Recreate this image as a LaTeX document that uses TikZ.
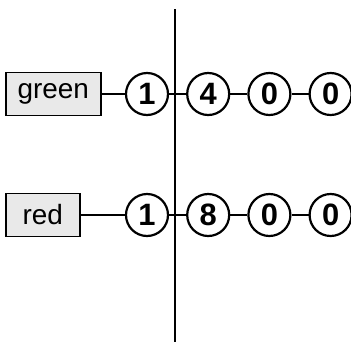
\documentclass[tikz,border=0pt]{standalone}
\usepackage{fontspec}
\setmainfont{Liberation Sans}
\usetikzlibrary{positioning}

\begin{document}
\begin{tikzpicture}[
    x=1bp, y=-1bp,
    node distance=17bp,
    colbox/.style={rectangle, draw=black, line width=1.5bp, fill=gray!17, minimum height=43bp, inner sep=0pt, font=\fontsize{28}{28}\selectfont},
    digit/.style={circle, draw=black, line width=2.2bp, fill=white, minimum size=42bp, inner sep=0pt, font=\fontsize{31}{31}\selectfont\bfseries},
    link/.style={line width=1.8bp}
]
  \useasboundingbox (0,0) rectangle (351,342);

  % divider
  \coordinate (top) at (175,9);
  \coordinate (bottom) at (175,342);
  \draw[line width=2bp] (top) -- (bottom);

  % green row
  \node[colbox, minimum width=95bp, anchor=west] (green) at (5,94) {green};
  \node[digit] (g1) at (147,94) {1};
  \node[digit] (g2) [right=of g1] {4};
  \node[digit] (g3) [right=of g2] {0};
  \node[digit] (g4) [right=of g3] {0};

  \draw[link] (green) -- (g1);
  \draw[link] (g1) -- (g2);
  \draw[link] (g2) -- (g3);
  \draw[link] (g3) -- (g4);

  % red row
  \node[colbox, minimum width=74bp, anchor=west] (red) at (5,215) {red};
  \node[digit] (r1) at (147,215) {1};
  \node[digit] (r2) [right=of r1] {8};
  \node[digit] (r3) [right=of r2] {0};
  \node[digit] (r4) [right=of r3] {0};

  \draw[link] (red) -- (r1);
  \draw[link] (r1) -- (r2);
  \draw[link] (r2) -- (r3);
  \draw[link] (r3) -- (r4);
\end{tikzpicture}
\end{document}
